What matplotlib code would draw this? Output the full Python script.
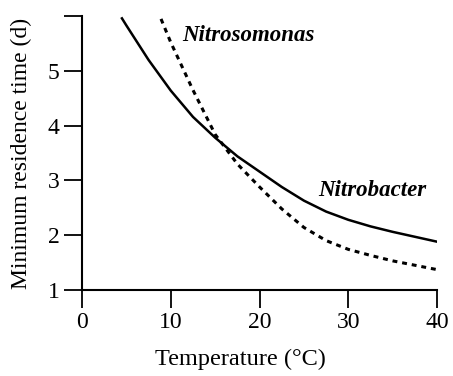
import matplotlib.pyplot as plt

plt.rcParams["font.family"] = "Liberation Serif"
plt.rcParams.update({'font.size': 17})

# Minimum residence time (d) read against temperature (deg C)
temp_nitrobacter = [4.5, 5, 7.5, 10, 12.5, 15, 17.5, 20, 22.5, 25, 27.5, 30, 32.5, 35, 37.5, 40]
time_nitrobacter = [5.96, 5.83, 5.20, 4.64, 4.16, 3.78, 3.44, 3.16, 2.88, 2.63, 2.43, 2.28, 2.16, 2.06, 1.97, 1.88]

temp_nitrosomonas = [8.9, 10, 12.5, 15, 17.5, 20, 22.5, 25, 27.5, 30, 32.5, 35, 37.5, 40]
time_nitrosomonas = [5.95, 5.52, 4.65, 3.84, 3.30, 2.88, 2.48, 2.14, 1.90, 1.74, 1.63, 1.53, 1.45, 1.37]

xticks = [0, 10, 20, 30, 40]
yticks = [1, 2, 3, 4, 5, 6]
ytick_labels = ['1', '2', '3', '4', '5', '']

fig = plt.figure(figsize=(4.53, 3.76), dpi=100)
ax = fig.add_axes([0.181, 0.229, 0.784, 0.728])

ax.plot(temp_nitrobacter, time_nitrobacter, color='black', linewidth=1.8)
ax.plot(temp_nitrosomonas, time_nitrosomonas, color='black', linewidth=2.2,
        linestyle=(0, (1.6, 1.6)))

ax.text(11.3, 5.64, 'Nitrosomonas', style='italic', weight='bold', fontsize=16.5,
        va='center', ha='left')
ax.text(26.6, 2.82, 'Nitrobacter', style='italic', weight='bold', fontsize=16.5,
        va='center', ha='left')

ax.set_xlim(0, 40)
ax.set_ylim(1, 6)
ax.set_xticks(xticks)
ax.set_yticks(yticks)
ax.set_yticklabels(ytick_labels)
ax.tick_params(direction='out', length=13, width=1.3)
ax.tick_params(axis='y', pad=3)
ax.tick_params(axis='x', pad=3)

for side in ['top', 'right']:
    ax.spines[side].set_visible(False)
for side in ['left', 'bottom']:
    ax.spines[side].set_linewidth(1.5)

ax.set_xlabel('Temperature (°C)', fontsize=17.5)
ax.xaxis.set_label_coords(0.445, -0.215)
ax.set_ylabel('Minimum residence time (d)')
ax.yaxis.set_label_coords(-0.14, 0.5)

fig.savefig('out.png', dpi=100)
